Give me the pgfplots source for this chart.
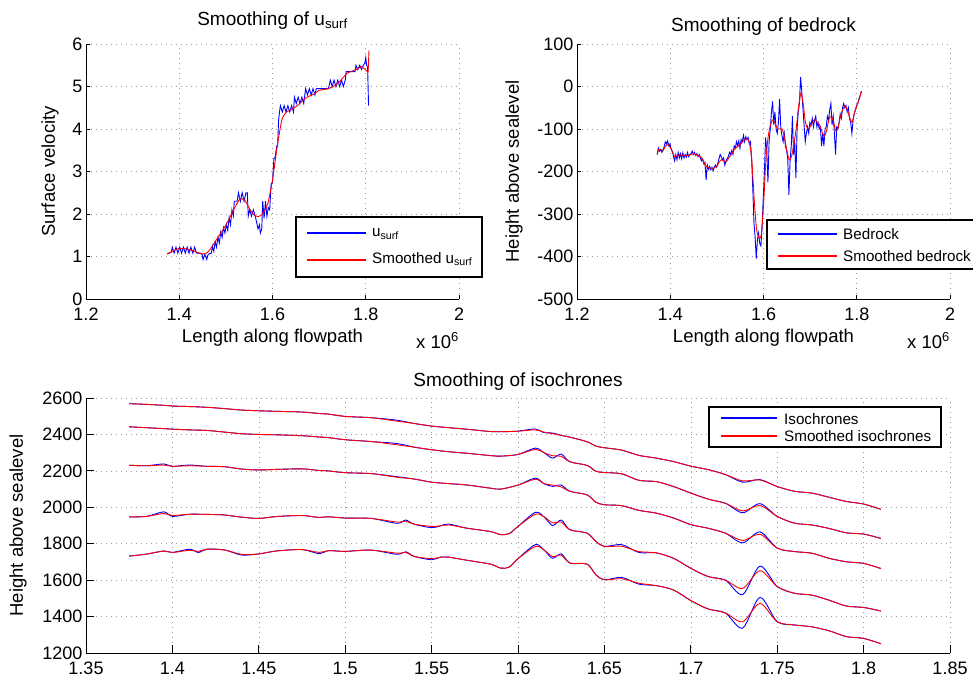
\documentclass[border=0pt]{standalone}
\usepackage{fontspec}
\setmainfont{Liberation Sans}
\usepackage{pgfplots}
\pgfplotsset{compat=1.18}
\newcommand\tkf{\fontsize{18}{21}\selectfont}
\newcommand\lbf{\fontsize{18.5}{21}\selectfont}
\newcommand\ttf{\fontsize{19}{22}\selectfont}
\newcommand\lgf{\fontsize{15.2}{17}\selectfont}
\pgfplotsset{
 mybase/.style={
  scale only axis,
  axis x line*=bottom, axis y line*=left,
  axis line style={-, line width=0.9pt, black},
  tick align=inside,
  tick style={line width=0.8pt, black},
  grid=major,
  grid style={black!40, line width=0.6pt, dash pattern=on 0.7pt off 4.3pt},
  tick label style={font=\tkf},
  xticklabel style={inner ysep=0pt, yshift=-9pt},
  yticklabel style={inner ysep=0pt},
  /pgf/number format/assume math mode=true,
  /pgf/number format/1000 sep={},
 },
}
\begin{document}
\begin{tikzpicture}
% ---------------- top left ----------------
\begin{axis}[mybase,
  at={(86pt,-299pt)}, anchor=south west,
  width=373pt, height=255pt,
  xmin=1.2, xmax=2, ymin=0, ymax=6,
  xtick={1.2,1.4,1.6,1.8,2}, ytick={0,1,2,3,4,5,6},
  major tick length=4pt,
  every axis title/.style={at={(axis description cs:0.5,1)}, anchor=base, yshift=19pt, font=\ttf},
  every axis x label/.style={at={(axis description cs:0.5,0)}, anchor=base, yshift=-43pt, font=\lbf},
  every axis y label/.style={at={(axis description cs:-0.0965,0.5)}, anchor=center, rotate=90, font=\lbf},
  title={Smoothing of u\textsubscript{surf}},
  xlabel={Length along flowpath}, ylabel={Surface velocity},
]
\addplot[color=blue, line width=0.9pt] coordinates {
(1.374,1.07)(1.379,1.08)(1.383,1.10)
(1.385,1.22)(1.389,1.08)(1.393,1.22)(1.397,1.08)(1.401,1.22)(1.405,1.08)(1.409,1.22)(1.413,1.08)(1.417,1.22)(1.421,1.08)(1.425,1.22)(1.429,1.08)(1.433,1.22)
(1.437,1.08)(1.445,1.08)(1.449,1.05)
(1.451,0.93)(1.455,1.05)(1.459,0.93)(1.462,1.05)
(1.466,1.07)(1.469,1.08)
(1.471,1.25)(1.474,1.12)(1.477,1.35)(1.480,1.22)(1.483,1.45)(1.486,1.32)(1.489,1.58)(1.492,1.45)(1.495,1.68)(1.498,1.55)(1.501,1.75)(1.504,1.62)
(1.507,1.92)(1.510,1.75)(1.513,2.1)(1.516,1.95)
(1.518,2.3)(1.524,2.3)
(1.527,2.5)(1.531,2.3)(1.535,2.5)(1.539,2.3)(1.543,2.5)(1.546,2.5)
(1.548,1.95)(1.551,2.1)(1.555,1.95)(1.559,2.1)(1.563,1.95)
(1.566,1.8)(1.569,1.65)(1.572,1.75)(1.574,1.55)(1.577,1.65)
(1.579,2.3)(1.582,1.9)(1.585,2.3)(1.588,1.95)
(1.591,2.15)(1.594,2.1)(1.597,2.7)
(1.600,2.75)(1.603,3.3)(1.606,3.35)(1.609,3.6)
(1.611,3.6)(1.613,4.2)(1.615,4.4)
(1.617,4.55)(1.621,4.4)(1.625,4.55)(1.629,4.4)(1.633,4.55)(1.637,4.4)(1.641,4.55)(1.645,4.4)
(1.647,4.75)(1.651,4.6)(1.655,4.75)(1.659,4.6)(1.663,4.75)(1.667,4.6)
(1.671,4.95)(1.675,4.8)(1.679,4.95)(1.683,4.8)(1.687,4.95)(1.691,4.8)(1.694,4.95)
(1.72,4.95)
(1.724,5.15)(1.728,5.0)(1.732,5.15)(1.736,5.0)(1.740,5.15)(1.744,5.0)(1.748,5.15)(1.752,5.0)(1.756,5.15)
(1.758,5.35)(1.777,5.35)
(1.779,5.5)(1.783,5.4)(1.787,5.5)(1.791,5.4)(1.795,5.5)
(1.798,5.55)(1.800,5.68)(1.802,5.5)(1.804,5.45)(1.806,4.55)
};
\addplot[color=red, line width=0.9pt, smooth, tension=0.4] coordinates {
(1.374,1.06)(1.39,1.15)(1.40,1.19)(1.42,1.17)(1.44,1.09)(1.45,1.06)(1.46,1.09)(1.47,1.23)(1.48,1.40)
(1.50,1.74)(1.52,2.17)(1.53,2.35)(1.54,2.33)(1.55,2.14)(1.56,1.98)(1.57,1.94)(1.58,2.02)(1.59,2.25)
(1.60,2.80)(1.61,3.58)(1.62,4.21)(1.63,4.40)(1.65,4.52)(1.67,4.72)(1.69,4.83)(1.70,4.91)(1.72,4.95)
(1.74,5.07)(1.76,5.31)(1.78,5.40)(1.79,5.47)(1.80,5.39)(1.805,5.33)
};
\addplot[color=red, line width=0.9pt] coordinates {(1.805,5.33)(1.807,5.85)};
\end{axis}
% ---------------- top right ----------------
\begin{axis}[mybase,
  at={(577pt,-299pt)}, anchor=south west,
  width=373pt, height=255pt,
  xmin=1.2, xmax=2, ymin=-500, ymax=100,
  xtick={1.2,1.4,1.6,1.8,2}, ytick={-500,-400,-300,-200,-100,0,100},
  major tick length=4pt,
  every axis title/.style={at={(axis description cs:0.5,1)}, anchor=base, yshift=13pt, font=\ttf},
  every axis x label/.style={at={(axis description cs:0.5,0)}, anchor=base, yshift=-43pt, font=\lbf},
  every axis y label/.style={at={(axis description cs:-0.169,0.5)}, anchor=center, rotate=90, font=\lbf},
  title={Smoothing of bedrock},
  xlabel={Length along flowpath}, ylabel={Height above sealevel},
]
\addplot[color=blue, line width=0.9pt] coordinates {
(1.372,-158)(1.3745,-145)(1.377,-152)(1.3795,-148)(1.382,-155)(1.3845,-150)(1.387,-141)(1.3895,-130)(1.392,-135)(1.3945,-128)
(1.397,-140)(1.3995,-135)(1.402,-148)(1.4045,-152)(1.407,-165)(1.4095,-175)(1.412,-160)(1.4145,-172)(1.417,-155)(1.4195,-168)
(1.422,-158)(1.4245,-170)(1.427,-156)(1.4295,-168)(1.432,-160)(1.4345,-166)(1.437,-155)(1.4395,-165)(1.442,-160)(1.4445,-158)
(1.447,-152)(1.4495,-160)(1.452,-155)(1.4545,-162)(1.457,-158)(1.4595,-165)(1.462,-160)(1.4645,-168)(1.467,-175)(1.4695,-170)
(1.472,-182)(1.4745,-178)(1.477,-220)(1.4795,-185)(1.482,-195)(1.4845,-188)(1.487,-196)(1.4895,-190)(1.492,-198)(1.4945,-190)
(1.497,-185)(1.4995,-190)(1.502,-180)(1.5045,-170)(1.507,-160)(1.5095,-165)(1.512,-172)(1.5145,-168)(1.517,-185)(1.5195,-175)
(1.522,-170)(1.5245,-165)(1.527,-155)(1.5295,-160)(1.532,-150)(1.5345,-160)(1.537,-140)(1.5395,-145)(1.542,-130)(1.5445,-140)
(1.547,-128)(1.5495,-145)(1.552,-125)(1.5545,-130)(1.557,-115)(1.5595,-130)(1.562,-118)(1.5645,-125)(1.567,-120)(1.5695,-135)
(1.572,-130)(1.5745,-170)(1.577,-240)(1.5795,-320)(1.582,-355)(1.5845,-405)(1.587,-360)(1.5895,-345)(1.592,-370)(1.5945,-375)
(1.597,-330)(1.5995,-260)(1.602,-200)(1.6045,-120)(1.607,-150)(1.6095,-225)(1.612,-130)(1.6145,-100)(1.617,-60)(1.6195,-35)
(1.622,-90)(1.6245,-60)(1.627,-100)(1.6295,-110)(1.632,-85)(1.6345,-30)(1.637,-95)(1.6395,-115)(1.642,-130)(1.6445,-110)
(1.647,-140)(1.6495,-150)(1.652,-170)(1.6545,-255)(1.657,-175)(1.6595,-140)(1.662,-70)(1.6645,-160)(1.667,-130)(1.6695,-215)
(1.672,-100)(1.6745,-60)(1.677,-40)(1.6795,22)(1.682,-10)(1.6845,-50)(1.687,-90)(1.6895,-130)(1.692,-110)(1.6945,-95)
(1.697,-110)(1.6995,-85)(1.702,-90)(1.7045,-75)(1.707,-95)(1.7095,-80)(1.712,-70)(1.7145,-95)(1.717,-85)(1.7195,-100)
(1.722,-95)(1.7245,-140)(1.727,-110)(1.7295,-140)(1.732,-100)(1.7345,-95)(1.737,-70)(1.7395,-80)(1.742,-55)(1.7445,-40)
(1.747,-90)(1.7495,-70)(1.752,-110)(1.7545,-160)(1.757,-95)(1.7595,-100)(1.762,-85)(1.7645,-65)(1.767,-75)(1.7695,-50)
(1.772,-40)(1.7745,-50)(1.777,-45)(1.7795,-60)(1.782,-50)(1.7845,-75)(1.787,-85)(1.7895,-110)(1.792,-80)(1.7945,-65)
(1.797,-55)(1.7995,-45)(1.802,-40)(1.8045,-30)(1.807,-22)(1.81,-11)
};
\addplot[color=red, line width=0.9pt, smooth, tension=0.4] coordinates {
(1.372,-161)(1.375,-149)(1.38,-148)(1.385,-150)(1.39,-140)(1.395,-137)(1.40,-143)(1.405,-155)(1.41,-166)(1.415,-165)
(1.42,-160)(1.43,-163)(1.44,-162)(1.45,-158)(1.46,-163)(1.465,-165)(1.47,-173)(1.475,-186)(1.48,-190)(1.49,-193)
(1.50,-187)(1.505,-178)(1.51,-172)(1.515,-176)(1.52,-177)(1.53,-161)(1.54,-145)(1.55,-137)(1.555,-130)(1.56,-125)
(1.565,-123)(1.57,-133)(1.575,-175)(1.58,-265)(1.585,-335)(1.59,-355)(1.595,-350)(1.60,-280)(1.605,-175)(1.61,-118)
(1.615,-90)(1.62,-78)(1.625,-87)(1.63,-100)(1.64,-100)(1.645,-120)(1.65,-150)(1.655,-172)(1.66,-165)(1.665,-137)
(1.67,-100)(1.675,-50)(1.68,-16)(1.685,-40)(1.69,-85)(1.695,-100)(1.70,-95)(1.705,-85)(1.71,-78)(1.72,-90)
(1.725,-105)(1.73,-117)(1.735,-105)(1.74,-78)(1.745,-70)(1.75,-82)(1.755,-105)(1.76,-97)(1.765,-70)(1.77,-54)
(1.775,-45)(1.78,-55)(1.785,-74)(1.79,-84)(1.795,-62)(1.80,-46)(1.805,-31)(1.81,-11)
};
\end{axis}
% ---------------- bottom ----------------
\begin{axis}[mybase,
  at={(86pt,-653pt)}, anchor=south west,
  width=864pt, height=255pt,
  xmin=1.35, xmax=1.85, ymin=1200, ymax=2600,
  xtick={1.35,1.4,1.45,1.5,1.55,1.6,1.65,1.7,1.75,1.8,1.85},
  ytick={1200,1400,1600,1800,2000,2200,2400,2600},
  major tick length=8pt,
  every axis title/.style={at={(axis description cs:0.5,1)}, anchor=base, yshift=12pt, font=\ttf},
  every axis y label/.style={at={(axis description cs:-0.0787,0.5)}, anchor=center, rotate=90, font=\lbf},
  title={Smoothing of isochrones},
  ylabel={Height above sealevel},
]
% blue isochrones
\addplot[color=blue, line width=0.9pt, smooth, tension=0.5] coordinates {
(1.375,2569)(1.385,2565)(1.395,2560)(1.40,2556)(1.41,2553)(1.42,2549)(1.43,2542)(1.44,2534)(1.45,2530)(1.46,2527)
(1.475,2523)(1.485,2515)(1.49,2512)(1.50,2499)(1.515,2492)(1.53,2478)(1.54,2460)(1.55,2446)(1.56,2437)(1.57,2429)
(1.584,2416)(1.59,2415)(1.60,2418)(1.61,2430)(1.615,2410)(1.62,2408)(1.625,2395)(1.63,2385)(1.64,2360)(1.645,2336)
(1.65,2327)(1.66,2314)(1.67,2285)(1.68,2270)(1.69,2251)(1.70,2226)(1.71,2207)(1.72,2180)(1.73,2138)(1.74,2152)
(1.75,2114)(1.76,2088)(1.77,2078)(1.78,2055)(1.79,2032)(1.80,2018)(1.81,1989)
};
\addplot[color=blue, line width=0.9pt, smooth, tension=0.5] coordinates {
(1.375,2442)(1.385,2437)(1.395,2432)(1.40,2429)(1.41,2425)(1.42,2422)(1.43,2413)(1.44,2404)(1.45,2400)(1.46,2398)
(1.475,2393)(1.485,2386)(1.49,2383)(1.50,2371)(1.515,2361)(1.53,2350)(1.54,2330)(1.55,2316)(1.56,2305)(1.57,2297)
(1.584,2284)(1.59,2281)(1.60,2290)(1.61,2325)(1.615,2300)(1.62,2270)(1.625,2292)(1.63,2250)(1.64,2230)(1.645,2198)
(1.65,2191)(1.66,2184)(1.67,2148)(1.68,2141)(1.69,2114)(1.70,2078)(1.71,2045)(1.72,2022)(1.73,1970)(1.74,2020)
(1.75,1950)(1.76,1913)(1.77,1903)(1.78,1884)(1.79,1860)(1.80,1853)(1.81,1829)
};
\addplot[color=blue, line width=0.9pt, smooth, tension=0.5] coordinates {
(1.375,2231)(1.385,2228)(1.395,2238)(1.40,2225)(1.41,2232)(1.42,2225)(1.43,2223)(1.44,2210)(1.45,2205)(1.46,2208)
(1.475,2211)(1.485,2202)(1.49,2200)(1.50,2190)(1.515,2185)(1.53,2168)(1.54,2155)(1.55,2138)(1.56,2130)(1.57,2123)
(1.584,2105)(1.59,2100)(1.60,2122)(1.61,2160)(1.615,2130)(1.62,2115)(1.625,2122)(1.63,2088)(1.64,2068)(1.645,2028)
(1.65,2014)(1.66,2009)(1.67,1983)(1.68,1968)(1.69,1941)(1.70,1905)(1.71,1885)(1.72,1858)(1.73,1805)(1.74,1865)
(1.75,1776)(1.76,1757)(1.77,1748)(1.78,1720)(1.79,1701)(1.80,1692)(1.81,1664)
};
\addplot[color=blue, line width=0.9pt, smooth, tension=0.5] coordinates {
(1.375,1947)(1.385,1950)(1.395,1975)(1.40,1950)(1.41,1962)(1.42,1961)(1.43,1958)(1.44,1946)(1.45,1939)(1.46,1949)
(1.475,1955)(1.485,1944)(1.49,1948)(1.50,1941)(1.515,1939)(1.53,1912)(1.535,1930)(1.54,1907)(1.55,1888)(1.555,1898)
(1.56,1908)(1.57,1886)(1.584,1867)(1.59,1850)(1.595,1856)(1.60,1895)(1.61,1972)(1.615,1948)(1.62,1900)(1.625,1930)
(1.63,1877)(1.64,1858)(1.645,1813)(1.65,1785)(1.66,1795)(1.67,1752)(1.68,1750)(1.69,1720)(1.70,1665)(1.71,1620)
(1.72,1600)(1.73,1521)(1.74,1677)(1.75,1565)(1.76,1528)(1.77,1518)(1.78,1490)(1.79,1458)(1.80,1450)(1.81,1431)
};
\addplot[color=blue, line width=0.9pt, smooth, tension=0.5] coordinates {
(1.375,1732)(1.385,1743)(1.395,1760)(1.40,1752)(1.41,1770)(1.415,1752)(1.42,1770)(1.43,1766)(1.44,1738)(1.45,1744)
(1.46,1760)(1.475,1768)(1.485,1745)(1.49,1762)(1.50,1758)(1.515,1765)(1.53,1742)(1.535,1756)(1.54,1730)(1.55,1712)
(1.555,1726)(1.56,1726)(1.57,1710)(1.584,1688)(1.59,1666)(1.595,1672)(1.60,1718)(1.61,1795)(1.615,1766)(1.62,1720)
(1.625,1745)(1.63,1694)(1.64,1688)(1.645,1630)(1.65,1602)(1.66,1615)(1.67,1578)(1.68,1570)(1.69,1546)(1.70,1488)
(1.71,1442)(1.72,1420)(1.73,1337)(1.74,1505)(1.75,1372)(1.76,1354)(1.77,1344)(1.78,1322)(1.79,1290)(1.80,1280)(1.81,1251)
};
% red smoothed isochrones
\addplot[color=red, line width=0.9pt, smooth, tension=0.5] coordinates {
(1.375,2569)(1.385,2565)(1.395,2560)(1.40,2556)(1.41,2553)(1.42,2549)(1.43,2542)(1.44,2534)(1.45,2530)(1.46,2527)
(1.475,2523)(1.485,2515)(1.49,2512)(1.50,2499)(1.515,2492)(1.53,2473)(1.54,2460)(1.55,2446)(1.56,2437)(1.57,2429)
(1.584,2416)(1.59,2415)(1.60,2418)(1.61,2425)(1.615,2413)(1.62,2404)(1.625,2395)(1.63,2385)(1.64,2360)(1.645,2336)
(1.65,2327)(1.66,2314)(1.67,2285)(1.68,2270)(1.69,2251)(1.70,2226)(1.71,2207)(1.72,2180)(1.73,2145)(1.74,2150)
(1.75,2114)(1.76,2088)(1.77,2078)(1.78,2055)(1.79,2032)(1.80,2018)(1.81,1989)
};
\addplot[color=red, line width=0.9pt, smooth, tension=0.5] coordinates {
(1.375,2442)(1.385,2437)(1.395,2432)(1.40,2429)(1.41,2425)(1.42,2422)(1.43,2413)(1.44,2404)(1.45,2400)(1.46,2398)
(1.475,2393)(1.485,2386)(1.49,2383)(1.50,2371)(1.515,2361)(1.53,2343)(1.54,2330)(1.55,2316)(1.56,2305)(1.57,2297)
(1.584,2284)(1.59,2281)(1.60,2290)(1.61,2318)(1.615,2300)(1.62,2283)(1.625,2280)(1.63,2250)(1.64,2230)(1.645,2198)
(1.65,2191)(1.66,2184)(1.67,2148)(1.68,2141)(1.69,2114)(1.70,2078)(1.71,2045)(1.72,2022)(1.73,1980)(1.74,2010)
(1.75,1950)(1.76,1913)(1.77,1903)(1.78,1884)(1.79,1860)(1.80,1853)(1.81,1829)
};
\addplot[color=red, line width=0.9pt, smooth, tension=0.5] coordinates {
(1.375,2231)(1.385,2228)(1.395,2232)(1.40,2225)(1.41,2228)(1.42,2225)(1.43,2223)(1.44,2210)(1.45,2205)(1.46,2208)
(1.475,2211)(1.485,2202)(1.49,2200)(1.50,2190)(1.515,2185)(1.53,2165)(1.54,2155)(1.55,2138)(1.56,2130)(1.57,2123)
(1.584,2105)(1.59,2100)(1.60,2122)(1.61,2154)(1.615,2130)(1.62,2122)(1.625,2112)(1.63,2088)(1.64,2068)(1.645,2028)
(1.65,2014)(1.66,2009)(1.67,1983)(1.68,1968)(1.69,1941)(1.70,1905)(1.71,1885)(1.72,1858)(1.73,1818)(1.74,1852)
(1.75,1776)(1.76,1757)(1.77,1748)(1.78,1720)(1.79,1701)(1.80,1692)(1.81,1664)
};
\addplot[color=red, line width=0.9pt, smooth, tension=0.5] coordinates {
(1.375,1947)(1.385,1950)(1.395,1966)(1.40,1955)(1.41,1962)(1.42,1961)(1.43,1958)(1.44,1946)(1.45,1939)(1.46,1949)
(1.475,1955)(1.485,1944)(1.49,1948)(1.50,1941)(1.515,1939)(1.53,1919)(1.535,1924)(1.54,1907)(1.55,1895)(1.555,1898)
(1.56,1903)(1.57,1886)(1.584,1867)(1.59,1850)(1.595,1856)(1.60,1895)(1.61,1962)(1.615,1948)(1.62,1915)(1.625,1919)
(1.63,1877)(1.64,1858)(1.645,1813)(1.65,1785)(1.66,1786)(1.67,1757)(1.68,1750)(1.69,1720)(1.70,1665)(1.71,1620)
(1.72,1600)(1.73,1555)(1.74,1652)(1.75,1565)(1.76,1528)(1.77,1518)(1.78,1490)(1.79,1458)(1.80,1450)(1.81,1431)
};
\addplot[color=red, line width=0.9pt, smooth, tension=0.5] coordinates {
(1.375,1732)(1.385,1743)(1.395,1760)(1.40,1752)(1.41,1764)(1.415,1758)(1.42,1770)(1.43,1766)(1.44,1742)(1.45,1744)
(1.46,1760)(1.475,1768)(1.485,1752)(1.49,1762)(1.50,1758)(1.515,1765)(1.53,1748)(1.535,1752)(1.54,1730)(1.55,1718)
(1.555,1726)(1.56,1726)(1.57,1710)(1.584,1688)(1.59,1666)(1.595,1672)(1.60,1718)(1.61,1785)(1.615,1766)(1.62,1730)
(1.625,1737)(1.63,1694)(1.64,1688)(1.645,1630)(1.65,1602)(1.66,1608)(1.67,1583)(1.68,1570)(1.69,1546)(1.70,1488)
(1.71,1442)(1.72,1420)(1.73,1372)(1.74,1472)(1.75,1372)(1.76,1354)(1.77,1344)(1.78,1322)(1.79,1290)(1.80,1280)(1.81,1251)
};
\end{axis}
% ---------------- legends ----------------
\draw[line width=1.2pt, fill=white] (296pt,-217pt) rectangle (482pt,-277pt);
\draw[blue, line width=1.5pt] (307pt,-233pt) -- (366pt,-233pt);
\node[anchor=base west, inner sep=0pt, font=\lgf] at (372pt,-236.5pt) {u\textsubscript{surf}};
\draw[red, line width=1.5pt] (307pt,-260pt) -- (366pt,-260pt);
\node[anchor=base west, inner sep=0pt, font=\lgf] at (372pt,-263pt) {Smoothed u\textsubscript{surf}};
\draw[line width=1.2pt, fill=white] (767pt,-220pt) rectangle (992pt,-269pt);
\draw[blue, line width=1.5pt] (778pt,-234pt) -- (837pt,-234pt);
\node[anchor=base west, inner sep=0pt, font=\lgf] at (843pt,-239.5pt) {Bedrock};
\draw[red, line width=1.5pt] (778pt,-256pt) -- (837pt,-256pt);
\node[anchor=base west, inner sep=0pt, font=\lgf] at (843pt,-261.5pt) {Smoothed bedrock};
\draw[line width=1.2pt, fill=white] (709pt,-407pt) rectangle (941pt,-447pt);
\draw[blue, line width=1.5pt] (721pt,-418pt) -- (777pt,-418pt);
\node[anchor=base west, inner sep=0pt, font=\lgf] at (784pt,-424pt) {Isochrones};
\draw[red, line width=1.5pt] (721pt,-436pt) -- (777pt,-436pt);
\node[anchor=base west, inner sep=0pt, font=\lgf] at (784pt,-441pt) {Smoothed isochrones};
% ---------------- x 10^6 ----------------
\node[anchor=base east, font=\lbf, inner sep=0pt] at (459pt,-348pt) {x 10\textsuperscript{6}};
\node[anchor=base east, font=\lbf, inner sep=0pt] at (950pt,-348pt) {x 10\textsuperscript{6}};
\pgfresetboundingbox
\path (0pt,0pt) rectangle (973pt,-678pt);
\end{tikzpicture}
\end{document}
